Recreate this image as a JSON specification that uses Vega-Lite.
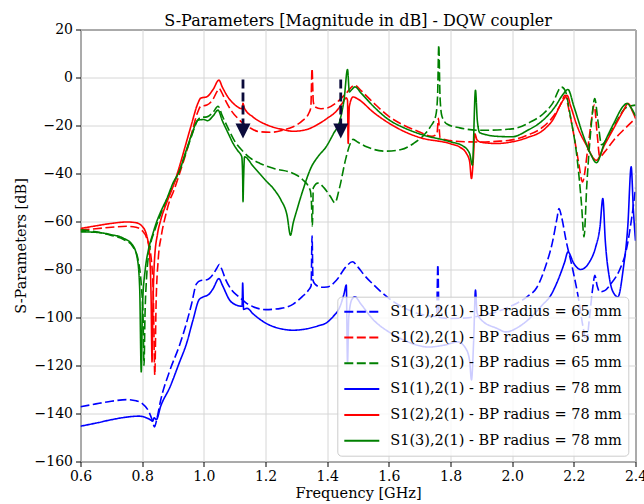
{
"$schema":"https://vega.github.io/schema/vega-lite/v6.json",
"autosize":{"type":"none"},
"padding":{"left":80.5,"top":29.5,"right":8,"bottom":42},
"width":555,"height":432,
"title":{"text":"S-Parameters [Magnitude in dB] - DQW coupler","font":"DejaVu Serif","fontSize":16,"fontWeight":"normal","color":"black","anchor":"middle","offset":-6},
"config":{
"view":{"stroke":"black","strokeWidth":1},
"axis":{"domain":false,"grid":true,"gridColor":"#d6d6d6","gridWidth":1,"tickColor":"black","tickSize":5,"labelFont":"DejaVu Serif","labelFontSize":14,"labelColor":"black","labelFlush":false,"labelOverlap":false,"titleFont":"DejaVu Serif","titleFontSize":14.5,"titleFontWeight":"normal","titleColor":"black"}
},
"layer":[
{"data":{"values":[
{"s":"a","f":0.6,"d":-137.2},{"s":"a","f":0.65,"d":-136},{"s":"a","f":0.7,"d":-134.9},{"s":"a","f":0.75,"d":-134.2},{"s":"a","f":0.78,"d":-134.7},{"s":"a","f":0.8,"d":-135.8},{"s":"a","f":0.82,"d":-138.8},{"s":"a","f":0.832,"d":-142.5},{"s":"a","f":0.84,"d":-145.6},{"s":"a","f":0.848,"d":-142},{"s":"a","f":0.86,"d":-134.5},{"s":"a","f":0.89,"d":-122},{"s":"a","f":0.92,"d":-112},{"s":"a","f":0.94,"d":-104},{"s":"a","f":0.96,"d":-94.5},{"s":"a","f":0.976,"d":-86},{"s":"a","f":0.99,"d":-84.6},{"s":"a","f":1.01,"d":-84.3},{"s":"a","f":1.03,"d":-82},{"s":"a","f":1.042,"d":-79.5},{"s":"a","f":1.05,"d":-77.9},{"s":"a","f":1.058,"d":-79.8},{"s":"a","f":1.07,"d":-84},{"s":"a","f":1.09,"d":-88.5},{"s":"a","f":1.11,"d":-91},{"s":"a","f":1.125,"d":-92.6},{"s":"a","f":1.14,"d":-94.2},{"s":"a","f":1.16,"d":-95.5},{"s":"a","f":1.2,"d":-96.7},{"s":"a","f":1.25,"d":-96.2},{"s":"a","f":1.29,"d":-94.4},{"s":"a","f":1.32,"d":-91.2},{"s":"a","f":1.34,"d":-88.5},{"s":"a","f":1.348,"d":-86.8},{"s":"a","f":1.351,"d":-66},{"s":"a","f":1.354,"d":-84.5},{"s":"a","f":1.36,"d":-86},{"s":"a","f":1.38,"d":-87.4},{"s":"a","f":1.4,"d":-87.3},{"s":"a","f":1.43,"d":-84.5},{"s":"a","f":1.46,"d":-79},{"s":"a","f":1.482,"d":-76.8},{"s":"a","f":1.5,"d":-79},{"s":"a","f":1.52,"d":-82.3},{"s":"a","f":1.55,"d":-86.3},{"s":"a","f":1.6,"d":-92},{"s":"a","f":1.65,"d":-96},{"s":"a","f":1.7,"d":-98.5},{"s":"a","f":1.755,"d":-99.6},{"s":"a","f":1.759,"d":-78},{"s":"a","f":1.763,"d":-100},{"s":"a","f":1.8,"d":-100.4},{"s":"a","f":1.85,"d":-100.2},{"s":"a","f":1.9,"d":-99.2},{"s":"a","f":1.95,"d":-97.6},{"s":"a","f":2,"d":-95},{"s":"a","f":2.05,"d":-91.2},{"s":"a","f":2.08,"d":-87.5},{"s":"a","f":2.11,"d":-78},{"s":"a","f":2.13,"d":-69},{"s":"a","f":2.145,"d":-59},{"s":"a","f":2.152,"d":-54.6},{"s":"a","f":2.16,"d":-58},{"s":"a","f":2.175,"d":-68},{"s":"a","f":2.197,"d":-80.3},{"s":"a","f":2.215,"d":-92},{"s":"a","f":2.23,"d":-104},{"s":"a","f":2.241,"d":-110.2},{"s":"a","f":2.25,"d":-101},{"s":"a","f":2.262,"d":-87},{"s":"a","f":2.268,"d":-82.4},{"s":"a","f":2.276,"d":-87},{"s":"a","f":2.284,"d":-89.3},{"s":"a","f":2.3,"d":-88.8},{"s":"a","f":2.32,"d":-86},{"s":"a","f":2.349,"d":-80},{"s":"a","f":2.37,"d":-72},{"s":"a","f":2.386,"d":-60},{"s":"a","f":2.398,"d":-48.3},{"s":"a","f":2.4,"d":-46},
{"s":"b","f":0.6,"d":-63.5},{"s":"b","f":0.65,"d":-63},{"s":"b","f":0.7,"d":-62.4},{"s":"b","f":0.75,"d":-62},{"s":"b","f":0.78,"d":-62.4},{"s":"b","f":0.8,"d":-63.8},{"s":"b","f":0.815,"d":-67},{"s":"b","f":0.828,"d":-74},{"s":"b","f":0.836,"d":-90},{"s":"b","f":0.841,"d":-124},{"s":"b","f":0.845,"d":-95},{"s":"b","f":0.852,"d":-76},{"s":"b","f":0.862,"d":-66},{"s":"b","f":0.875,"d":-58},{"s":"b","f":0.89,"d":-51},{"s":"b","f":0.9,"d":-48},{"s":"b","f":0.92,"d":-40.5},{"s":"b","f":0.94,"d":-32.5},{"s":"b","f":0.96,"d":-23.5},{"s":"b","f":0.98,"d":-14.5},{"s":"b","f":0.99,"d":-12},{"s":"b","f":1.01,"d":-11.5},{"s":"b","f":1.03,"d":-9},{"s":"b","f":1.043,"d":-5.8},{"s":"b","f":1.05,"d":-4.6},{"s":"b","f":1.057,"d":-6},{"s":"b","f":1.07,"d":-9.5},{"s":"b","f":1.09,"d":-14},{"s":"b","f":1.11,"d":-17},{"s":"b","f":1.125,"d":-18.8},{"s":"b","f":1.15,"d":-21},{"s":"b","f":1.18,"d":-22.6},{"s":"b","f":1.22,"d":-22.8},{"s":"b","f":1.26,"d":-21.8},{"s":"b","f":1.29,"d":-20.5},{"s":"b","f":1.32,"d":-18},{"s":"b","f":1.34,"d":-15},{"s":"b","f":1.347,"d":-12.5},{"s":"b","f":1.351,"d":3.7},{"s":"b","f":1.355,"d":-10},{"s":"b","f":1.36,"d":-12.2},{"s":"b","f":1.38,"d":-13},{"s":"b","f":1.4,"d":-12.7},{"s":"b","f":1.43,"d":-10.5},{"s":"b","f":1.46,"d":-6.8},{"s":"b","f":1.489,"d":-3.2},{"s":"b","f":1.51,"d":-5.5},{"s":"b","f":1.55,"d":-10.5},{"s":"b","f":1.6,"d":-16.2},{"s":"b","f":1.65,"d":-20},{"s":"b","f":1.7,"d":-22.7},{"s":"b","f":1.74,"d":-24.5},{"s":"b","f":1.756,"d":-23.5},{"s":"b","f":1.761,"d":-17},{"s":"b","f":1.766,"d":-25.2},{"s":"b","f":1.8,"d":-26.3},{"s":"b","f":1.85,"d":-26.8},{"s":"b","f":1.9,"d":-26.9},{"s":"b","f":1.95,"d":-26.6},{"s":"b","f":2,"d":-26},{"s":"b","f":2.05,"d":-24},{"s":"b","f":2.1,"d":-20.6},{"s":"b","f":2.14,"d":-15},{"s":"b","f":2.16,"d":-10.5},{"s":"b","f":2.171,"d":-7.4},{"s":"b","f":2.185,"d":-14},{"s":"b","f":2.2,"d":-24},{"s":"b","f":2.215,"d":-35},{"s":"b","f":2.228,"d":-43.5},{"s":"b","f":2.245,"d":-30},{"s":"b","f":2.258,"d":-17},{"s":"b","f":2.266,"d":-11.5},{"s":"b","f":2.276,"d":-24},{"s":"b","f":2.284,"d":-33},{"s":"b","f":2.3,"d":-31},{"s":"b","f":2.33,"d":-26},{"s":"b","f":2.36,"d":-22},{"s":"b","f":2.4,"d":-17},
{"s":"c","f":0.6,"d":-63.5},{"s":"c","f":0.65,"d":-64.3},{"s":"c","f":0.7,"d":-65.8},{"s":"c","f":0.74,"d":-67.5},{"s":"c","f":0.77,"d":-70.5},{"s":"c","f":0.787,"d":-76},{"s":"c","f":0.798,"d":-88},{"s":"c","f":0.803,"d":-100},{"s":"c","f":0.806,"d":-120},{"s":"c","f":0.809,"d":-100},{"s":"c","f":0.815,"d":-82},{"s":"c","f":0.825,"d":-71},{"s":"c","f":0.84,"d":-64},{"s":"c","f":0.86,"d":-57},{"s":"c","f":0.88,"d":-51},{"s":"c","f":0.9,"d":-45},{"s":"c","f":0.92,"d":-39},{"s":"c","f":0.94,"d":-32},{"s":"c","f":0.96,"d":-24.5},{"s":"c","f":0.98,"d":-17.8},{"s":"c","f":0.99,"d":-16.6},{"s":"c","f":1.01,"d":-16.4},{"s":"c","f":1.03,"d":-14.5},{"s":"c","f":1.046,"d":-12},{"s":"c","f":1.06,"d":-16},{"s":"c","f":1.08,"d":-21.5},{"s":"c","f":1.1,"d":-26.5},{"s":"c","f":1.125,"d":-30.5},{"s":"c","f":1.15,"d":-33.5},{"s":"c","f":1.182,"d":-35.8},{"s":"c","f":1.23,"d":-38},{"s":"c","f":1.29,"d":-40},{"s":"c","f":1.32,"d":-42.5},{"s":"c","f":1.345,"d":-47},{"s":"c","f":1.349,"d":-52},{"s":"c","f":1.352,"d":-62},{"s":"c","f":1.355,"d":-46},{"s":"c","f":1.37,"d":-44},{"s":"c","f":1.39,"d":-46},{"s":"c","f":1.41,"d":-49.5},{"s":"c","f":1.425,"d":-52.2},{"s":"c","f":1.44,"d":-46},{"s":"c","f":1.46,"d":-34},{"s":"c","f":1.475,"d":-27.5},{"s":"c","f":1.484,"d":-25.8},{"s":"c","f":1.5,"d":-27},{"s":"c","f":1.53,"d":-29},{"s":"c","f":1.59,"d":-30.7},{"s":"c","f":1.64,"d":-30},{"s":"c","f":1.68,"d":-27.5},{"s":"c","f":1.71,"d":-24.5},{"s":"c","f":1.735,"d":-20.5},{"s":"c","f":1.752,"d":-16},{"s":"c","f":1.758,"d":-8},{"s":"c","f":1.762,"d":13.5},{"s":"c","f":1.766,"d":-8},{"s":"c","f":1.772,"d":-16},{"s":"c","f":1.79,"d":-19.5},{"s":"c","f":1.83,"d":-21},{"s":"c","f":1.9,"d":-22},{"s":"c","f":2,"d":-21.4},{"s":"c","f":2.06,"d":-18.5},{"s":"c","f":2.1,"d":-15.2},{"s":"c","f":2.13,"d":-11},{"s":"c","f":2.16,"d":-4},{"s":"c","f":2.172,"d":-5.5},{"s":"c","f":2.19,"d":-17},{"s":"c","f":2.21,"d":-33},{"s":"c","f":2.225,"d":-53},{"s":"c","f":2.233,"d":-66.4},{"s":"c","f":2.242,"d":-45},{"s":"c","f":2.255,"d":-22},{"s":"c","f":2.268,"d":-8.8},{"s":"c","f":2.278,"d":-18},{"s":"c","f":2.29,"d":-28},{"s":"c","f":2.31,"d":-25},{"s":"c","f":2.34,"d":-18},{"s":"c","f":2.37,"d":-12.5},{"s":"c","f":2.4,"d":-11.5},
{"s":"d","f":0.6,"d":-145.3},{"s":"d","f":0.65,"d":-144},{"s":"d","f":0.7,"d":-142.6},{"s":"d","f":0.75,"d":-141.5},{"s":"d","f":0.79,"d":-141.1},{"s":"d","f":0.81,"d":-141.6},{"s":"d","f":0.825,"d":-142.5},{"s":"d","f":0.834,"d":-143.2},{"s":"d","f":0.839,"d":-141.8},{"s":"d","f":0.846,"d":-142.5},{"s":"d","f":0.86,"d":-137},{"s":"d","f":0.89,"d":-129},{"s":"d","f":0.92,"d":-119},{"s":"d","f":0.944,"d":-110.8},{"s":"d","f":0.965,"d":-101},{"s":"d","f":0.985,"d":-92.5},{"s":"d","f":1,"d":-91.3},{"s":"d","f":1.015,"d":-90.5},{"s":"d","f":1.03,"d":-88},{"s":"d","f":1.049,"d":-83.8},{"s":"d","f":1.06,"d":-86.5},{"s":"d","f":1.084,"d":-92.8},{"s":"d","f":1.105,"d":-94.8},{"s":"d","f":1.124,"d":-95.3},{"s":"d","f":1.126,"d":-85.6},{"s":"d","f":1.129,"d":-96.6},{"s":"d","f":1.14,"d":-96.2},{"s":"d","f":1.16,"d":-98.5},{"s":"d","f":1.2,"d":-102.3},{"s":"d","f":1.25,"d":-104.7},{"s":"d","f":1.29,"d":-105.3},{"s":"d","f":1.33,"d":-104.8},{"s":"d","f":1.37,"d":-103.5},{"s":"d","f":1.4,"d":-102},{"s":"d","f":1.42,"d":-99.5},{"s":"d","f":1.441,"d":-95.6},{"s":"d","f":1.455,"d":-90},{"s":"d","f":1.462,"d":-86.5},{"s":"d","f":1.466,"d":-119},{"s":"d","f":1.47,"d":-100},{"s":"d","f":1.48,"d":-92.5},{"s":"d","f":1.49,"d":-91.4},{"s":"d","f":1.51,"d":-94.5},{"s":"d","f":1.55,"d":-101},{"s":"d","f":1.6,"d":-106},{"s":"d","f":1.65,"d":-109.5},{"s":"d","f":1.73,"d":-112.3},{"s":"d","f":1.78,"d":-111.5},{"s":"d","f":1.824,"d":-110.2},{"s":"d","f":1.85,"d":-113},{"s":"d","f":1.862,"d":-118},{"s":"d","f":1.868,"d":-126},{"s":"d","f":1.875,"d":-110},{"s":"d","f":1.881,"d":-88.6},{"s":"d","f":1.886,"d":-98},{"s":"d","f":1.9,"d":-101},{"s":"d","f":1.95,"d":-104.5},{"s":"d","f":1.98,"d":-106},{"s":"d","f":2.02,"d":-104},{"s":"d","f":2.06,"d":-100},{"s":"d","f":2.1,"d":-94.5},{"s":"d","f":2.122,"d":-91.4},{"s":"d","f":2.15,"d":-84},{"s":"d","f":2.17,"d":-77},{"s":"d","f":2.181,"d":-72.7},{"s":"d","f":2.2,"d":-77.5},{"s":"d","f":2.222,"d":-80},{"s":"d","f":2.25,"d":-77},{"s":"d","f":2.27,"d":-71},{"s":"d","f":2.285,"d":-62},{"s":"d","f":2.294,"d":-50.4},{"s":"d","f":2.302,"d":-68},{"s":"d","f":2.316,"d":-84},{"s":"d","f":2.33,"d":-90},{"s":"d","f":2.343,"d":-91.4},{"s":"d","f":2.36,"d":-80},{"s":"d","f":2.375,"d":-62},{"s":"d","f":2.386,"d":-37.2},{"s":"d","f":2.393,"d":-55},{"s":"d","f":2.4,"d":-68},
{"s":"e","f":0.6,"d":-62.9},{"s":"e","f":0.65,"d":-61.8},{"s":"e","f":0.7,"d":-60.8},{"s":"e","f":0.75,"d":-60.2},{"s":"e","f":0.78,"d":-60.5},{"s":"e","f":0.8,"d":-62},{"s":"e","f":0.815,"d":-66},{"s":"e","f":0.824,"d":-74},{"s":"e","f":0.829,"d":-92},{"s":"e","f":0.832,"d":-118.5},{"s":"e","f":0.835,"d":-95},{"s":"e","f":0.84,"d":-76},{"s":"e","f":0.85,"d":-65},{"s":"e","f":0.86,"d":-59.5},{"s":"e","f":0.88,"d":-52},{"s":"e","f":0.9,"d":-45.5},{"s":"e","f":0.92,"d":-37.5},{"s":"e","f":0.94,"d":-28.5},{"s":"e","f":0.96,"d":-19.5},{"s":"e","f":0.98,"d":-11},{"s":"e","f":0.99,"d":-8.6},{"s":"e","f":1.01,"d":-8},{"s":"e","f":1.03,"d":-5},{"s":"e","f":1.049,"d":-1.1},{"s":"e","f":1.06,"d":-4},{"s":"e","f":1.08,"d":-8.5},{"s":"e","f":1.1,"d":-11.3},{"s":"e","f":1.124,"d":-13},{"s":"e","f":1.127,"d":-10.8},{"s":"e","f":1.131,"d":-12.6},{"s":"e","f":1.16,"d":-16.5},{"s":"e","f":1.2,"d":-19.5},{"s":"e","f":1.25,"d":-21.5},{"s":"e","f":1.29,"d":-22.4},{"s":"e","f":1.33,"d":-21.8},{"s":"e","f":1.37,"d":-19.5},{"s":"e","f":1.4,"d":-17},{"s":"e","f":1.43,"d":-14},{"s":"e","f":1.45,"d":-10.5},{"s":"e","f":1.462,"d":-8.5},{"s":"e","f":1.466,"d":-9.5},{"s":"e","f":1.468,"d":-27.5},{"s":"e","f":1.472,"d":-12},{"s":"e","f":1.484,"d":-8.1},{"s":"e","f":1.5,"d":-9},{"s":"e","f":1.55,"d":-14.5},{"s":"e","f":1.6,"d":-19},{"s":"e","f":1.65,"d":-22.5},{"s":"e","f":1.7,"d":-25},{"s":"e","f":1.8,"d":-27.6},{"s":"e","f":1.83,"d":-29},{"s":"e","f":1.852,"d":-31.7},{"s":"e","f":1.862,"d":-35},{"s":"e","f":1.868,"d":-42.1},{"s":"e","f":1.874,"d":-34},{"s":"e","f":1.879,"d":-23.5},{"s":"e","f":1.886,"d":-26},{"s":"e","f":1.9,"d":-27},{"s":"e","f":1.95,"d":-27.5},{"s":"e","f":2,"d":-26.8},{"s":"e","f":2.05,"d":-25},{"s":"e","f":2.1,"d":-22},{"s":"e","f":2.13,"d":-18},{"s":"e","f":2.165,"d":-9.5},{"s":"e","f":2.178,"d":-7.4},{"s":"e","f":2.19,"d":-12},{"s":"e","f":2.21,"d":-20},{"s":"e","f":2.24,"d":-28},{"s":"e","f":2.273,"d":-34.5},{"s":"e","f":2.3,"d":-28},{"s":"e","f":2.33,"d":-21},{"s":"e","f":2.36,"d":-14},{"s":"e","f":2.376,"d":-10.8},{"s":"e","f":2.39,"d":-14},{"s":"e","f":2.4,"d":-17},
{"s":"f","f":0.6,"d":-64.3},{"s":"f","f":0.65,"d":-64.5},{"s":"f","f":0.7,"d":-65.5},{"s":"f","f":0.74,"d":-67},{"s":"f","f":0.77,"d":-70},{"s":"f","f":0.785,"d":-76},{"s":"f","f":0.792,"d":-88},{"s":"f","f":0.797,"d":-122.7},{"s":"f","f":0.801,"d":-95},{"s":"f","f":0.81,"d":-80},{"s":"f","f":0.82,"d":-72},{"s":"f","f":0.835,"d":-65},{"s":"f","f":0.846,"d":-60.5},{"s":"f","f":0.86,"d":-56},{"s":"f","f":0.88,"d":-50.5},{"s":"f","f":0.9,"d":-44},{"s":"f","f":0.922,"d":-38.6},{"s":"f","f":0.94,"d":-31.5},{"s":"f","f":0.96,"d":-24},{"s":"f","f":0.981,"d":-17.8},{"s":"f","f":1,"d":-17.5},{"s":"f","f":1.012,"d":-18},{"s":"f","f":1.03,"d":-16},{"s":"f","f":1.046,"d":-13.6},{"s":"f","f":1.06,"d":-18},{"s":"f","f":1.08,"d":-23.5},{"s":"f","f":1.095,"d":-27.5},{"s":"f","f":1.11,"d":-30.5},{"s":"f","f":1.123,"d":-33},{"s":"f","f":1.126,"d":-42},{"s":"f","f":1.127,"d":-51.8},{"s":"f","f":1.129,"d":-42},{"s":"f","f":1.132,"d":-33},{"s":"f","f":1.16,"d":-37},{"s":"f","f":1.2,"d":-42.8},{"s":"f","f":1.23,"d":-47},{"s":"f","f":1.25,"d":-51},{"s":"f","f":1.27,"d":-57.5},{"s":"f","f":1.281,"d":-65.7},{"s":"f","f":1.29,"d":-60.5},{"s":"f","f":1.3,"d":-56},{"s":"f","f":1.32,"d":-47.5},{"s":"f","f":1.349,"d":-37.2},{"s":"f","f":1.37,"d":-33},{"s":"f","f":1.397,"d":-28.8},{"s":"f","f":1.42,"d":-23.5},{"s":"f","f":1.441,"d":-18},{"s":"f","f":1.455,"d":-9},{"s":"f","f":1.466,"d":3.3},{"s":"f","f":1.472,"d":-6},{"s":"f","f":1.48,"d":-5},{"s":"f","f":1.49,"d":-3.9},{"s":"f","f":1.51,"d":-6.5},{"s":"f","f":1.55,"d":-12},{"s":"f","f":1.6,"d":-17.6},{"s":"f","f":1.65,"d":-21},{"s":"f","f":1.7,"d":-23.5},{"s":"f","f":1.8,"d":-26.8},{"s":"f","f":1.84,"d":-28.5},{"s":"f","f":1.862,"d":-31.7},{"s":"f","f":1.871,"d":-36.5},{"s":"f","f":1.881,"d":-5.3},{"s":"f","f":1.887,"d":-18},{"s":"f","f":1.895,"d":-23},{"s":"f","f":1.95,"d":-24.5},{"s":"f","f":2,"d":-24.7},{"s":"f","f":2.05,"d":-22},{"s":"f","f":2.1,"d":-17.8},{"s":"f","f":2.14,"d":-12},{"s":"f","f":2.165,"d":-7},{"s":"f","f":2.181,"d":-5},{"s":"f","f":2.2,"d":-12},{"s":"f","f":2.23,"d":-24},{"s":"f","f":2.255,"d":-32},{"s":"f","f":2.273,"d":-35.5},{"s":"f","f":2.3,"d":-27},{"s":"f","f":2.33,"d":-19},{"s":"f","f":2.36,"d":-12},{"s":"f","f":2.372,"d":-10.8},{"s":"f","f":2.385,"d":-12.5},{"s":"f","f":2.4,"d":-16}
]},
"mark":{"type":"line","strokeWidth":1.6,"clip":true,"interpolate":"monotone"},
"encoding":{
"x":{"field":"f","type":"quantitative","title":"Frequency [GHz]","scale":{"domain":[0.6,2.4],"nice":false,"zero":false},"axis":{"values":[0.6,0.8,1.0,1.2,1.4,1.6,1.8,2.0,2.2,2.4],"format":".1f","labelPadding":3,"titlePadding":3}},
"y":{"field":"d","type":"quantitative","title":"S-Parameters [dB]","scale":{"domain":[-160,20],"nice":false,"zero":false},"axis":{"values":[-160,-140,-120,-100,-80,-60,-40,-20,0,20],"labelPadding":3,"titlePadding":6}},
"color":{"field":"s","type":"nominal","title":null,"scale":{"domain":["a","b","c","d","e","f"],"range":["#0000ff","#ff0000","#008000","#0000ff","#ff0000","#008000"]},
"legend":{"orient":"none","legendX":256.8,"legendY":267.2,"fillColor":"rgba(255,255,255,0.8)","strokeColor":"#cccccc","cornerRadius":4,"padding":6,"symbolType":"stroke","symbolSize":1225,"symbolStrokeWidth":2,"clipHeight":18,"labelFont":"DejaVu Serif","labelFontSize":14.5,"labelColor":"black","labelOffset":10,"rowPadding":7.8,"labelLimit":400,
"labelExpr":"datum.label=='a'?'S1(1),2(1) - BP radius = 65 mm':datum.label=='b'?'S1(2),2(1) - BP radius = 65 mm':datum.label=='c'?'S1(3),2(1) - BP radius = 65 mm':datum.label=='d'?'S1(1),2(1) - BP radius = 78 mm':datum.label=='e'?'S1(2),2(1) - BP radius = 78 mm':'S1(3),2(1) - BP radius = 78 mm'"}},
"strokeDash":{"field":"s","type":"nominal","title":null,"scale":{"domain":["a","b","c","d","e","f"],"range":[[9,3.5],[9,3.5],[9,3.5],[1,0],[1,0],[1,0]]},
"legend":{"orient":"none","legendX":256.8,"legendY":267.2,"fillColor":"rgba(255,255,255,0.8)","strokeColor":"#cccccc","cornerRadius":4,"padding":6,"symbolType":"stroke","symbolSize":1225,"symbolStrokeWidth":2,"clipHeight":18,"labelFont":"DejaVu Serif","labelFontSize":14.5,"labelColor":"black","labelOffset":10,"rowPadding":7.8,"labelLimit":400,
"labelExpr":"datum.label=='a'?'S1(1),2(1) - BP radius = 65 mm':datum.label=='b'?'S1(2),2(1) - BP radius = 65 mm':datum.label=='c'?'S1(3),2(1) - BP radius = 65 mm':datum.label=='d'?'S1(1),2(1) - BP radius = 78 mm':datum.label=='e'?'S1(2),2(1) - BP radius = 78 mm':'S1(3),2(1) - BP radius = 78 mm'"}},
"order":{"field":"f","type":"quantitative"}
}},
{"data":{"values":[{"f":1.127,"top":-0.8,"bot":-19.5,"tip":-22.3},{"f":1.444,"top":-0.8,"bot":-19.5,"tip":-22.3}]},
"layer":[
{"mark":{"type":"rule","color":"#0b0b3b","strokeWidth":2.8,"strokeDash":[9,4]},"encoding":{"x":{"field":"f","type":"quantitative"},"y":{"field":"top","type":"quantitative"},"y2":{"field":"bot"}}},
{"mark":{"type":"point","shape":"M-1,-1L1,-1L0,1Z","filled":true,"color":"#0b0b3b","opacity":1,"size":225},"encoding":{"x":{"field":"f","type":"quantitative"},"y":{"field":"tip","type":"quantitative"}}}
]}
]
}
